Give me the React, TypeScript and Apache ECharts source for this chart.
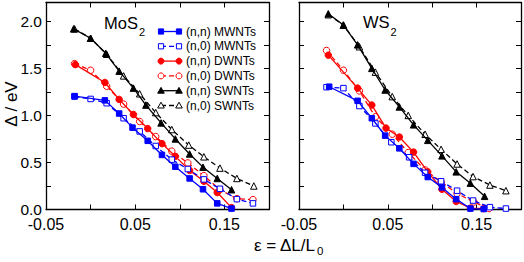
import React, { useEffect, useRef } from 'react';
import * as echarts from 'echarts';

const FONT = '"Liberation Sans", Arial, Helvetica, sans-serif';
const BLUE = '#0000ff';
const RED = '#ff0000';
const BLACK = '#000000';

// ---------- MoS2 panel ----------
const mosMwNnX = [-0.018, 0.016, 0.032, 0.047, 0.064, 0.08, 0.095, 0.111, 0.126, 0.142, 0.158];
const mosMwNnY = [1.205, 1.16, 1.02, 0.87, 0.73, 0.58, 0.455, 0.33, 0.215, 0.065, 0.01];
const mosMwN0X = [-0.018, 0.0, 0.018, 0.037, 0.055, 0.073, 0.091, 0.109, 0.127, 0.145, 0.164, 0.182];
const mosMwN0Y = [1.2, 1.175, 1.13, 0.97, 0.83, 0.675, 0.53, 0.43, 0.32, 0.22, 0.11, 0.065];
const mosDwNnX = [-0.017, 0.016, 0.032, 0.048, 0.064, 0.08, 0.095, 0.111, 0.127, 0.142, 0.158];
const mosDwNnY = [1.54, 1.35, 1.17, 1.01, 0.86, 0.7, 0.565, 0.415, 0.3, 0.18, 0.02];
const mosDwN0X = [-0.018, 0.0, 0.018, 0.037, 0.055, 0.073, 0.091, 0.109, 0.127, 0.145, 0.164, 0.182];
const mosDwN0Y = [1.55, 1.48, 1.31, 1.12, 0.935, 0.775, 0.62, 0.495, 0.36, 0.21, 0.115, 0.105];
const mosSwNnX = [-0.019, 0.0, 0.017, 0.032, 0.048, 0.062, 0.079, 0.095, 0.111, 0.126, 0.142, 0.158];
const mosSwNnY = [1.92, 1.82, 1.66, 1.47, 1.29, 1.11, 0.92, 0.75, 0.59, 0.45, 0.33, 0.21];
const mosSwN0X = [-0.018, 0.0, 0.018, 0.037, 0.055, 0.073, 0.091, 0.11, 0.127, 0.145, 0.164, 0.183];
const mosSwN0Y = [1.92, 1.82, 1.65, 1.42, 1.23, 1.03, 0.85, 0.685, 0.56, 0.44, 0.33, 0.25];

// ---------- WS2 panel ----------
const wsMwNnX = [-0.016, 0.016, 0.032, 0.047, 0.063, 0.079, 0.095, 0.111, 0.127, 0.143, 0.158];
const wsMwNnY = [1.305, 1.155, 0.97, 0.785, 0.65, 0.485, 0.345, 0.235, 0.11, 0.01, 0.005];
const wsMwN0X = [-0.019, 0.0, 0.018, 0.036, 0.054, 0.074, 0.092, 0.11, 0.128, 0.146, 0.165, 0.183];
const wsMwN0Y = [1.3, 1.29, 1.1, 0.915, 0.715, 0.555, 0.39, 0.3, 0.2, 0.095, 0.025, 0.01];
const wsDwNnX = [-0.017, 0.016, 0.032, 0.048, 0.063, 0.079, 0.095, 0.111, 0.127, 0.143, 0.158];
const wsDwNnY = [1.64, 1.29, 1.11, 0.865, 0.77, 0.61, 0.4, 0.215, 0.085, 0.015, 0.01];
const wsDwN0X = [-0.019, 0.0, 0.018, 0.036, 0.055, 0.073, 0.092, 0.11, 0.128, 0.147, 0.164];
const wsDwN0Y = [1.69, 1.48, 1.26, 0.985, 0.8, 0.605, 0.42, 0.295, 0.17, 0.08, 0.01];
const wsSwNnX = [-0.017, 0.0, 0.016, 0.032, 0.047, 0.063, 0.079, 0.095, 0.111, 0.127, 0.143, 0.159];
const wsSwNnY = [2.08, 1.96, 1.75, 1.5, 1.27, 1.09, 0.9, 0.735, 0.57, 0.4, 0.28, 0.14];
const wsSwN0X = [-0.017, 0.0, 0.018, 0.036, 0.055, 0.073, 0.092, 0.11, 0.128, 0.146, 0.165, 0.183];
const wsSwN0Y = [2.07, 1.96, 1.73, 1.46, 1.2, 1.0, 0.8, 0.64, 0.484, 0.35, 0.26, 0.2];

const legendNames = ['(n,n) MWNTs', '(n,0) MWNTs', '(n,n) DWNTs', '(n,0) DWNTs', '(n,n) SWNTs', '(n,0) SWNTs'];
const panelLabels = ['MoS', 'WS'];
const xTitle = 'ε = ΔL/L';
const yTitle = 'Δ / eV';

type Kind = 'rect' | 'circle' | 'triangle';
const styles: { color: string; kind: Kind; filled: boolean; dashed: boolean }[] = [
  { color: BLUE, kind: 'rect', filled: true, dashed: false },
  { color: BLUE, kind: 'rect', filled: false, dashed: true },
  { color: RED, kind: 'circle', filled: true, dashed: false },
  { color: RED, kind: 'circle', filled: false, dashed: true },
  { color: BLACK, kind: 'triangle', filled: true, dashed: false },
  { color: BLACK, kind: 'triangle', filled: false, dashed: true },
];

const panels = [
  [[mosMwNnX, mosMwNnY], [mosMwN0X, mosMwN0Y], [mosDwNnX, mosDwNnY], [mosDwN0X, mosDwN0Y], [mosSwNnX, mosSwNnY], [mosSwN0X, mosSwN0Y]],
  [[wsMwNnX, wsMwNnY], [wsMwN0X, wsMwN0Y], [wsDwNnX, wsDwNnY], [wsDwN0X, wsDwN0Y], [wsSwNnX, wsSwNnY], [wsSwN0X, wsSwN0Y]],
];

const DASH = [5, 3];

function symSize(k: Kind) {
  return k === 'rect' ? 5.5 : k === 'circle' ? 6.5 : 6.5;
}

function buildSeries() {
  const out: any[] = [];
  panels.forEach((panel, p) => {
    panel.forEach(([xs, ys], i) => {
      const s = styles[i];
      out.push({
        type: 'line',
        name: legendNames[i],
        xAxisIndex: p * 2,
        yAxisIndex: p * 2,
        data: xs.map((x, j) => [x, ys[j]]),
        symbol: s.kind,
        symbolSize: symSize(s.kind),
        showSymbol: true,
        clip: false,
        lineStyle: { color: s.color, width: 1.3, type: s.dashed ? DASH : 'solid' },
        itemStyle: { color: s.filled ? s.color : '#ffffff', borderColor: s.color, borderWidth: 1 },
        emphasis: { disabled: true },
        z: 10 - i,
      });
    });
  });
  return out;
}

function markerGraphic(k: Kind, cx: number, cy: number, color: string, filled: boolean) {
  const style = { fill: filled ? color : '#ffffff', stroke: color, lineWidth: 1 };
  if (k === 'rect') return { type: 'rect', shape: { x: cx - 2.6, y: cy - 2.6, width: 5.2, height: 5.2 }, style, z: 101 };
  if (k === 'circle') return { type: 'circle', shape: { cx, cy, r: 3 }, style, z: 101 };
  return { type: 'polygon', shape: { points: [[cx, cy - 3.3], [cx + 3.3, cy + 2.5], [cx - 3.3, cy + 2.5]] }, style, z: 101 };
}

function textWidth(t: string, size: number) {
  const c = document.createElement('canvas').getContext('2d');
  if (!c) return t.length * size * 0.55;
  c.font = `${size}px ${FONT}`;
  return c.measureText(t).width;
}

function buildGraphic() {
  const g: any[] = [];
  legendNames.forEach((name, i) => {
    const s = styles[i];
    const y = 31.5 + i * 14.8;
    g.push({ type: 'line', shape: { x1: 161, y1: y, x2: 179, y2: y }, style: { stroke: s.color, lineWidth: 1.3, lineDash: s.dashed ? DASH : null }, z: 100 });
    g.push(markerGraphic(s.kind, 161, y, s.color, s.filled));
    g.push(markerGraphic(s.kind, 179, y, s.color, s.filled));
    g.push({ type: 'text', x: 186, y, style: { text: name, fontSize: 12, fontFamily: FONT, fill: '#000', textVerticalAlign: 'middle', textAlign: 'left' }, z: 100 });
  });
  // panel labels
  const pl = 16.5;
  const w0 = textWidth(panelLabels[0], pl);
  const w1 = textWidth(panelLabels[1], pl);
  g.push({ type: 'text', x: 104, y: 22.5, style: { text: panelLabels[0], fontSize: pl, fontFamily: FONT, fill: '#000', textVerticalAlign: 'middle' } });
  g.push({ type: 'text', x: 104 + w0 + 1, y: 31.8, style: { text: '2', fontSize: 11, fontFamily: FONT, fill: '#000', textVerticalAlign: 'middle' } });
  g.push({ type: 'text', x: 363, y: 22, style: { text: panelLabels[1], fontSize: pl, fontFamily: FONT, fill: '#000', textVerticalAlign: 'middle' } });
  g.push({ type: 'text', x: 363 + w1 + 1, y: 31.5, style: { text: '2', fontSize: 11, fontFamily: FONT, fill: '#000', textVerticalAlign: 'middle' } });
  // axis titles
  const xs = 17;
  const xw = textWidth(xTitle, xs);
  const xStart = 254;
  g.push({ type: 'text', x: xStart, y: 245, style: { text: xTitle, fontSize: xs, fontFamily: FONT, fill: '#000', textVerticalAlign: 'middle', textAlign: 'left' } });
  g.push({ type: 'text', x: xStart + xw + 1, y: 251, style: { text: '0', fontSize: 11.5, fontFamily: FONT, fill: '#000', textVerticalAlign: 'middle', textAlign: 'left' } });
  g.push({ type: 'text', x: 11, y: 104, rotation: Math.PI / 2, style: { text: yTitle, fontSize: 17, fontFamily: FONT, fill: '#000', textVerticalAlign: 'middle', textAlign: 'center' } });
  return g;
}

const xFmt = (v: number) => (Math.abs(Math.round(v / 0.05)) % 2 === 1 ? v.toFixed(2) : '');
const yFmt = (v: number) => (Math.abs(v * 2 - Math.round(v * 2)) < 1e-6 && v <= 2.0001 ? v.toFixed(1) : '');

function xAx(grid: number, pos: 'bottom' | 'top', labels: boolean) {
  return {
    type: 'value', gridIndex: grid, position: pos, min: -0.05, max: 0.2, interval: 0.05,
    axisLine: { show: true, onZero: false, lineStyle: { color: '#000', width: 1.3 } },
    axisTick: { show: true, inside: true, length: 5, lineStyle: { color: '#000', width: 1 } },
    axisLabel: { show: labels, formatter: xFmt, fontSize: 16, fontFamily: FONT, color: '#000', margin: 7 },
    splitLine: { show: false },
  };
}
function yAx(grid: number, pos: 'left' | 'right', labels: boolean) {
  return {
    type: 'value', gridIndex: grid, position: pos, min: 0, max: 2.2, interval: 0.25,
    axisLine: { show: true, onZero: false, lineStyle: { color: '#000', width: 1.3 } },
    axisTick: { show: true, inside: true, length: 5, lineStyle: { color: '#000', width: 1 } },
    axisLabel: { show: labels, formatter: yFmt, fontSize: 15.5, fontFamily: FONT, color: '#000', margin: 4 },
    splitLine: { show: false },
  };
}

export default function App() {
  const ref = useRef<HTMLDivElement>(null);
  useEffect(() => {
    if (!ref.current) return;
    const chart = echarts.init(ref.current, undefined, { renderer: 'svg' });
    chart.setOption({
      animation: false,
      backgroundColor: '#ffffff',
      grid: [
        { left: 46, top: 2.5, width: 223, height: 207 },
        { left: 299, top: 2.5, width: 222, height: 207 },
      ],
      xAxis: [xAx(0, 'bottom', true), xAx(0, 'top', false), xAx(1, 'bottom', true), xAx(1, 'top', false)],
      yAxis: [yAx(0, 'left', true), yAx(0, 'right', false), yAx(1, 'left', false), yAx(1, 'right', false)],
      series: buildSeries(),
      graphic: buildGraphic(),
    });
    return () => chart.dispose();
  }, []);
  return <div ref={ref} style={{ position: 'fixed', left: 0, top: 0, width: 524, height: 262 }} />;
}
